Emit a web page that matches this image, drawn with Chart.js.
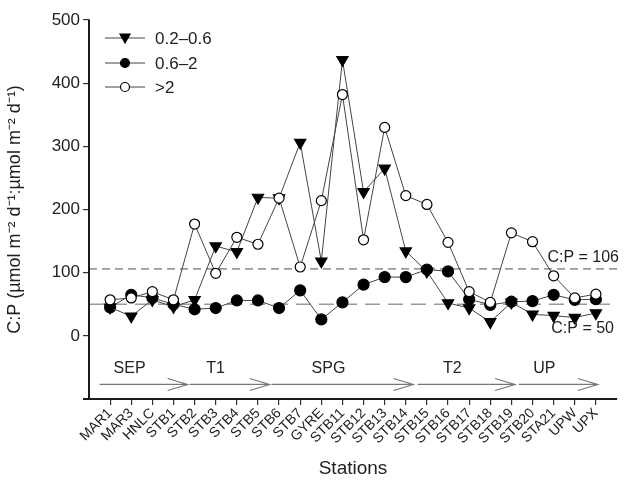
<!DOCTYPE html>
<html>
<head>
<meta charset="utf-8">
<script src="https://cdn.jsdelivr.net/npm/chart.js@4"></script>
<style>
html, body { margin: 0; padding: 0; background: #fff; }
#wrap { width: 636px; height: 486px; }
</style>
</head>
<body>
<div id="wrap"><canvas id="myChart"></canvas></div>
<script>
var stations = ["MAR1","MAR3","HNLC","STB1","STB2","STB3","STB4","STB5","STB6","STB7","GYRE","STB11",
                "STB12","STB13","STB14","STB15","STB16","STB17","STB18","STB19","STB20","STA21","UPW","UPX"];
// C:P per size fraction
var small = [45,31,57,46,57,142,133,219,218,306,118,437,228,265,134,102,52,44,22,53,34,32,29,36];   // 0.2–0.6
var mid   = [45,65,60,50,42,44,56,56,44,72,26,53,81,93,93,105,102,58,49,54,55,65,57,58];          // 0.6–2
var large = [57,60,70,57,177,99,156,145,218,109,214,382,152,330,222,208,148,70,53,163,149,95,60,66]; // >2
var seriesNames = ["0.2–0.6", "0.6–2", ">2"];
var yTicks = [0,100,200,300,400,500];
var refValues = [106, 50];
var refLabels = ["C:P = 106", "C:P = 50"];
// station regions shown as arrows under the data (in station index units)
var regions = ["SEP","T1","SPG","T2","UP"];
var regionStart = [-0.5, 3.77, 7.64, 14.56, 19.35];
var regionEnd   = [3.67, 7.55, 14.36, 19.17, 23.09];
var regionArrowY = -77;
var regionLabelY = -52;

Chart.defaults.font.family = "'Liberation Sans', Arial, sans-serif";
Chart.defaults.color = "#222";

function pts(arr) {
    return arr.map(function (v, i) { return {x: i, y: v}; });
}

var extras = {
    id: "extras",
    afterDraw: function (chart) {
        var ctx = chart.ctx, xs = chart.scales.x, ys = chart.scales.y;
        ctx.save();
        // axis frame (left and bottom)
        var l = Math.round(xs.left), b = Math.round(ys.bottom), t = Math.round(ys.top), r = Math.round(xs.right);
        ctx.fillStyle = "#1a1a1a";
        ctx.fillRect(l - 1, t, 2, b - t + 1);
        ctx.fillRect(l - 6, b - 1, r - l + 6, 2);

        // reference line labels
        ctx.fillStyle = "#222";
        ctx.font = "16px 'Liberation Sans', Arial, sans-serif";
        ctx.textAlign = "right";
        ctx.textBaseline = "bottom";
        ctx.fillText(refLabels[0], 619, ys.getPixelForValue(refValues[0]) - 3);
        ctx.textBaseline = "top";
        ctx.fillText(refLabels[1], 614, ys.getPixelForValue(refValues[1]) + 16);

        // region arrows
        ctx.strokeStyle = "#777";
        ctx.lineWidth = 1.2;
        var ay = ys.getPixelForValue(regionArrowY);
        var ly = ys.getPixelForValue(regionLabelY);
        ctx.textAlign = "center";
        ctx.textBaseline = "middle";
        for (var i = 0; i < regions.length; i++) {
            var x0 = xs.getPixelForValue(regionStart[i]);
            var x1 = xs.getPixelForValue(regionEnd[i]);
            ctx.beginPath();
            ctx.moveTo(x0, ay);
            ctx.lineTo(x1, ay);
            ctx.moveTo(x1 - 20, ay - 6);
            ctx.lineTo(x1, ay);
            ctx.lineTo(x1 - 20, ay + 6);
            ctx.stroke();
            ctx.fillText(regions[i], (x0 + x1) / 2 - 14, ly);
        }

        // legend
        var rows = [38, 63, 87];
        ctx.textAlign = "left";
        ctx.font = "17px 'Liberation Sans', Arial, sans-serif";
        chart.data.datasets.slice(0, 3).forEach(function (ds, k) {
            var y = rows[k];
            ctx.strokeStyle = "#444";
            ctx.lineWidth = 1;
            ctx.beginPath();
            ctx.moveTo(105, y);
            ctx.lineTo(145, y);
            ctx.stroke();
            ctx.fillStyle = ds.pointBackgroundColor;
            ctx.strokeStyle = "#000";
            ctx.lineWidth = 1.2;
            ctx.beginPath();
            if (ds.pointStyle === "circle") {
                ctx.arc(125, y, 4.5, 0, Math.PI * 2);
            } else {
                ctx.moveTo(120, y - 4);
                ctx.lineTo(130, y - 4);
                ctx.lineTo(125, y + 5);
                ctx.closePath();
            }
            ctx.fill();
            ctx.stroke();
            ctx.fillStyle = "#222";
            ctx.fillText(seriesNames[k], 155, y + 1);
        });
        ctx.restore();
    }
};

var lineStyle = {borderColor: "#444", borderWidth: 1, pointBorderColor: "#000", pointBorderWidth: 1.2, tension: 0};
var axisGrid = {display: true, drawOnChartArea: false, drawTicks: true, tickLength: 6, tickColor: "#333", color: "#333", lineWidth: 1.2};

new Chart("myChart", {
    type: "line",
    data: {
        datasets: [
            Object.assign({label: seriesNames[0], data: pts(small), pointStyle: "triangle", pointRotation: 180,
                pointRadius: 6.5, pointBackgroundColor: "#000", order: 2}, lineStyle),
            Object.assign({label: seriesNames[1], data: pts(mid), pointStyle: "circle",
                pointRadius: 5.5, pointBackgroundColor: "#000", order: 3}, lineStyle),
            Object.assign({label: seriesNames[2], data: pts(large), pointStyle: "circle",
                pointRadius: 5, pointBackgroundColor: "#fff", order: 1}, lineStyle),
            {label: "ref106", data: [{x: -1, y: refValues[0]}, {x: 24, y: refValues[0]}], borderColor: "#9a9a9a",
                borderWidth: 1.6, borderDash: [8, 5], pointRadius: 0, order: 5},
            {label: "ref50", data: [{x: -1, y: refValues[1]}, {x: 23.8, y: refValues[1]}], borderColor: "#9a9a9a",
                borderWidth: 1.6, borderDash: [15, 8], pointRadius: 0, order: 5}
        ]
    },
    options: {
        responsive: true,
        maintainAspectRatio: false,
        animation: false,
        layout: {padding: {top: 20, right: 19, left: 0, bottom: 0}},
        plugins: {legend: {display: false}, tooltip: {enabled: false}},
        scales: {
            x: {
                type: "linear",
                min: -1, max: 24,
                grid: axisGrid,
                border: {display: true, color: "#222", width: 1.5},
                afterBuildTicks: function (axis) {
                    axis.ticks = stations.map(function (s, i) { return {value: i}; });
                },
                afterFit: function (axis) { axis.height = 87; },
                ticks: {
                    autoSkip: false, minRotation: 45, maxRotation: 45, padding: 0,
                    font: {size: 14}, color: "#222",
                    callback: function (v) { return stations[v]; }
                },
                title: {display: true, text: "Stations", font: {size: 19}, color: "#222", padding: {top: 0, bottom: 6}}
            },
            y: {
                min: -100, max: 500,
                grid: axisGrid,
                border: {display: true, color: "#222", width: 1.5},
                afterBuildTicks: function (axis) {
                    axis.ticks = yTicks.map(function (v) { return {value: v}; });
                },
                afterFit: function (axis) { axis.width = 89; },
                ticks: {font: {size: 17}, color: "#222", padding: 3},
                title: {display: true, text: "C:P (µmol m⁻² d⁻¹:µmol m⁻² d⁻¹)", font: {size: 18}, color: "#222",
                    padding: {top: 4, bottom: 0}}
            }
        }
    },
    plugins: [extras]
});
</script>
</body>
</html>
